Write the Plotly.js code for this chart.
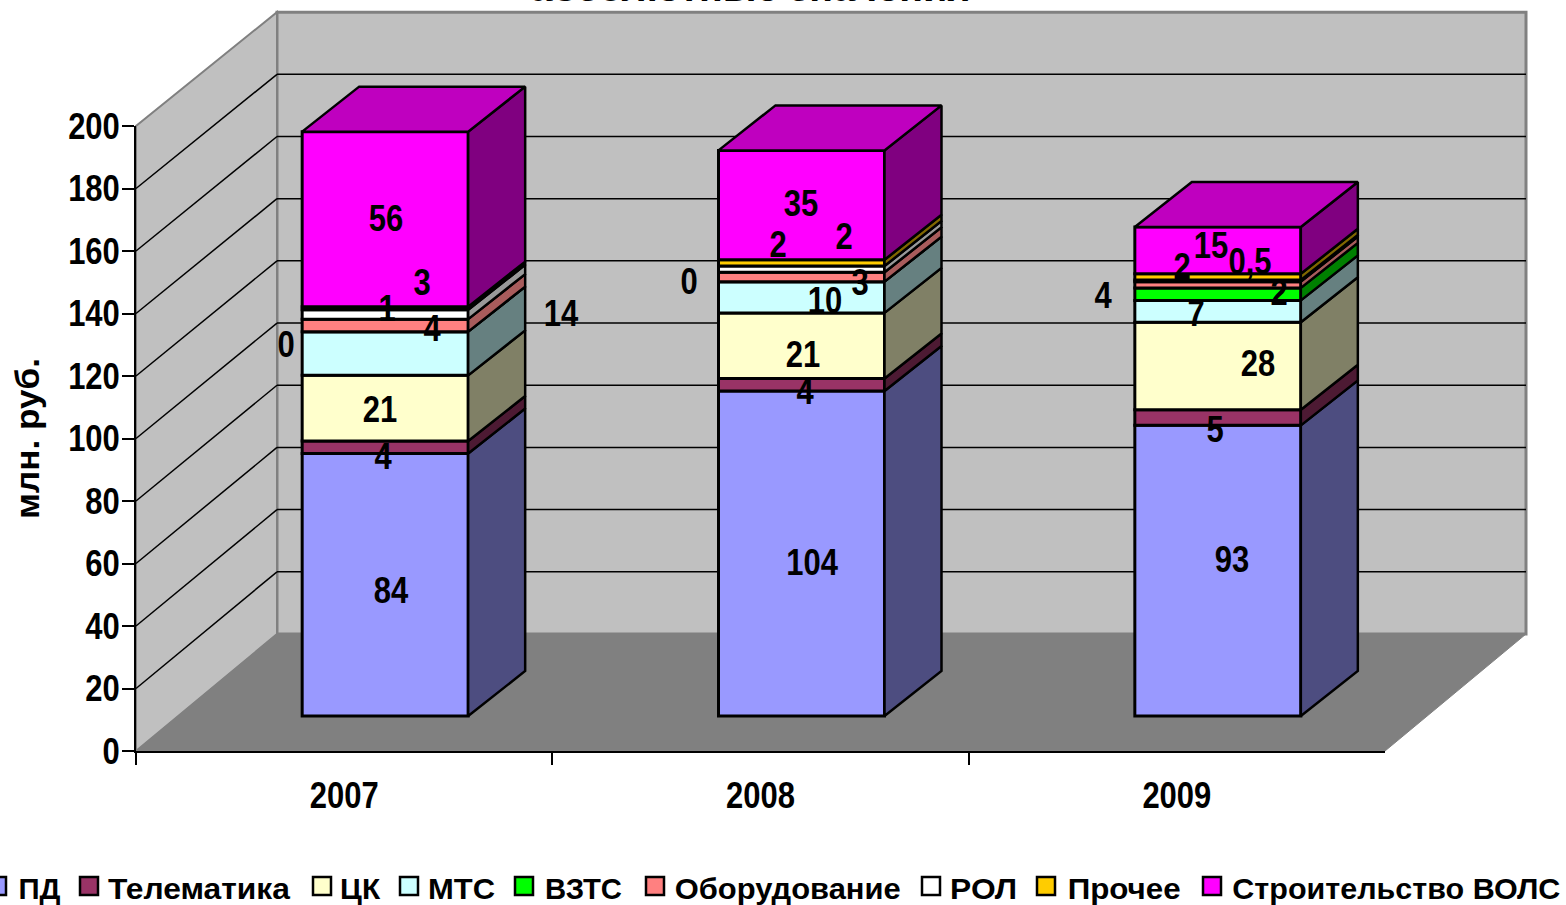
<!DOCTYPE html>
<html><head><meta charset="utf-8">
<script src="https://cdn.plot.ly/plotly-3.0.1.min.js"></script>
<style>html,body{margin:0;padding:0;background:#fff}#c{width:1566px;height:905px}</style>
</head><body><div id="c"></div>
<script>
const years = ['2007','2008','2009'];
const seriesNames = ['ПД','Телематика','ЦК','МТС','ВЗТС','Оборудование','РОЛ','Прочее','Строительство ВОЛС'];
const pd = [84,104,93];
const telematika = [4,4,5];
const ck = [21,21,28];
const mts = [14,10,7];
const vzts = [0,0,4];
const oborudovanie = [4,3,2];
const rol = [3,2,0.5];
const prochee = [1,2,2];
const stroitelstvo = [56,35,15];
const seriesValues = [pd,telematika,ck,mts,vzts,oborudovanie,rol,prochee,stroitelstvo];
const frontColors = ['#9999ff','#993366','#ffffcc','#ccffff','#00ff00','#ff8080','#ffffff','#ffcc00','#ff00ff'];
const sideColors  = ['#4d4d80','#4d1a33','#808066','#668080','#008000','#a85c5c','#999999','#806600','#800080'];
const topColor = '#bf00bf';
const yTicks = [0,20,40,60,80,100,120,140,160,180,200];
// label nudges in px from the middle of each segment, [2007,2008,2009] per series
const labelDx = [[6,10,14],[-2,3,-3],[-5,1,40],[176,23,-22],[-99,-113,-115],[47,58,61],[37,42,32],[2,-24,-36],[1,-1,-7]];
const labelDy = [[6,9,-11],[9,7,12],[1,9,-3],[-40,3,2],[13,0,1],[3,6,8],[-32,-33,-19],[0,-18,-10],[-1,-2,-5]];
const legendSwatchX = [-12,80,313,400,515,646,922,1037,1203];
const legendTextX = [18,108,340,428,545,674,950,1067,1232];
const legendTextW = [42,182,40,67,77,226,67,113,328];
const titleText = 'абсолютные значения';
const yTitleText = 'млн. руб.';

const W=1566,H=905, X0=136, Y0=751, PXU=1249/3, PYU=3.125;
const digitFont='"Liberation Sans",sans-serif';
const wallD=[141/PXU,117/PYU], barOff=[41/PXU,35/PYU], barD=[57/PXU,45/PYU], barW=166/PXU, backScale=0.995;

const cum = seriesValues.map((s,k)=>s.map((_,i)=>{let c=0;for(let j=0;j<k;j++)c+=seriesValues[j][i];return c;}));
const cx = i=>i+0.5+barOff[0];
const traces=[];
seriesNames.forEach((n,k)=>{
  traces.push({type:'bar',name:n,x:years.map((_,i)=>cx(i)),y:seriesValues[k],
    base:cum[k].map(c=>c+barOff[1]),width:barW,xaxis:'x',yaxis:'y',
    marker:{color:frontColors[k],line:{color:'#000',width:3}},showlegend:false,hoverinfo:'name+y'});
});
seriesNames.forEach((n,k)=>{
  const xs=[],ys=[];
  years.forEach((_,i)=>{
    const xr=cx(i)+barW/2,b0=barOff[1]+cum[k][i],b1=b0+seriesValues[k][i];
    xs.push(xr,xr+barD[0],xr+barD[0],xr,xr,null);
    ys.push(b0,b0+barD[1],b1+barD[1],b1,b0,null);
  });
  traces.push({type:'scatter',mode:'lines',x:xs,y:ys,fill:'toself',fillcolor:sideColors[k],
    line:{color:'#000',width:2.5},showlegend:false,hoverinfo:'skip',xaxis:'x',yaxis:'y'});
});
{
  const xs=[],ys=[];
  years.forEach((_,i)=>{
    const xl=cx(i)-barW/2,xr=cx(i)+barW/2,t=barOff[1]+cum[8][i]+stroitelstvo[i];
    xs.push(xl,xr,xr+barD[0],xl+barD[0],xl,null);
    ys.push(t,t,t+barD[1],t+barD[1],t,null);
  });
  traces.push({type:'scatter',mode:'lines',x:xs,y:ys,fill:'toself',fillcolor:topColor,
    line:{color:'#000',width:2.5},showlegend:false,hoverinfo:'skip',xaxis:'x',yaxis:'y'});
}
// carrier so that the visible axes exist
traces.push({type:'scatter',mode:'markers',x:years,y:years.map(()=>0),xaxis:'x2',yaxis:'y2',
  marker:{opacity:0,size:1},showlegend:false,hoverinfo:'skip'});

const poly=p=>'M'+p.map(q=>q[0]+','+q[1]).join('L')+'Z';
const backY=v=>wallD[1]+v*backScale;
const shapes=[
 {type:'path',layer:'below',xref:'x',yref:'y',path:poly([[wallD[0],backY(0)],[3+wallD[0],backY(0)],[3+wallD[0],backY(200)],[wallD[0],backY(200)]]),fillcolor:'#c0c0c0',line:{color:'#808080',width:3}},
 {type:'path',layer:'below',xref:'x',yref:'y',path:poly([[0,0],[wallD[0],backY(0)],[wallD[0],backY(200)],[0,200]]),fillcolor:'#c0c0c0',line:{color:'#808080',width:2}},
 {type:'path',layer:'below',xref:'x',yref:'y',path:poly([[0,0],[3,0],[3+wallD[0],backY(0)],[wallD[0],backY(0)]]),fillcolor:'#808080',line:{color:'#808080',width:1}}
];
yTicks.filter(v=>v>0&&v<200).forEach(v=>{
  const l={color:'#000',width:1.5};
  shapes.push({type:'line',layer:'below',xref:'x',yref:'y',x0:wallD[0],x1:3+wallD[0],y0:backY(v),y1:backY(v),line:l});
  shapes.push({type:'line',layer:'below',xref:'x',yref:'y',x0:0,x1:wallD[0],y0:v,y1:backY(v),line:l});
});
const annotations=[];
seriesNames.forEach((n,k)=>{
  years.forEach((_,i)=>{
    const v=seriesValues[k][i];
    annotations.push({xref:'x',yref:'y',x:cx(i),y:barOff[1]+cum[k][i]+v/2,xshift:labelDx[k][i],yshift:-labelDy[k][i],
      text:String(v).replace('.',','),showarrow:false,font:{family:digitFont,size:36,color:'#000',weight:700},xanchor:'center',yanchor:'middle'});
  });
});
const fitWidths={};
seriesNames.forEach((n,k)=>{
  fitWidths[n]=legendTextW[k];
  annotations.push({xref:'paper',yref:'paper',x:(legendTextX[k]+legendTextW[k]/2)/W,y:1-888/H,text:n,showarrow:false,xanchor:'center',yanchor:'middle',
    font:{family:'"Liberation Sans",sans-serif',size:30,color:'#000',weight:700}});
  shapes.push({type:'rect',xref:'paper',yref:'paper',x0:legendSwatchX[k]/W,x1:(legendSwatchX[k]+18)/W,y0:1-895/H,y1:1-877/H,
    fillcolor:frontColors[k],line:{color:'#000',width:2.5}});
});
fitWidths[titleText]=440;
fitWidths[yTitleText]=161;
annotations.push({xref:'paper',yref:'paper',x:750/W,y:1+11/H,text:titleText,showarrow:false,xanchor:'center',yanchor:'middle',
  font:{family:'"Liberation Sans",sans-serif',size:33,color:'#000',weight:700}});

const layout={width:W,height:H,margin:{l:0,r:0,t:0,b:0},paper_bgcolor:'#fff',plot_bgcolor:'rgba(0,0,0,0)',
 barmode:'overlay',showlegend:false,hovermode:false,
 xaxis:{range:[-X0/PXU,(W-X0)/PXU],visible:false,fixedrange:true,domain:[0,1],anchor:'y'},
 yaxis:{range:[-(H-Y0)/PYU,Y0/PYU],visible:false,fixedrange:true,domain:[0,1],anchor:'x'},
 xaxis2:{type:'category',categoryorder:'array',categoryarray:years,range:[-0.5,2.5],domain:[X0/W,(X0+1249)/W],anchor:'y2',
   tickson:'boundaries',ticks:'outside',ticklen:12,tickwidth:2,tickcolor:'#000',showline:true,linecolor:'#000',linewidth:2,showgrid:false,
   tickfont:{family:digitFont,size:36,color:'#000',weight:700},ticklabelstandoff:12,fixedrange:true},
 yaxis2:{range:[0,200],domain:[(H-Y0)/H,(H-Y0+625)/H],anchor:'x2',tickvals:yTicks,ticktext:yTicks.map(String),
   ticks:'outside',ticklen:12,tickwidth:2,tickcolor:'#000',showline:true,linecolor:'#000',linewidth:2,showgrid:false,zeroline:false,
   tickfont:{family:digitFont,size:36,color:'#000',weight:700},ticklabelstandoff:-5,fixedrange:true,
   title:{text:yTitleText,font:{family:'"Liberation Sans",sans-serif',size:33,color:'#000',weight:700},standoff:10}},
 shapes,annotations};
Plotly.newPlot('c',traces,layout,{displayModeBar:false,staticPlot:true}).then(gd=>{
  // the reference uses a condensed face; fit the real text to its measured widths
  gd.querySelectorAll('svg text').forEach(el=>{
    const t=el.textContent;
    let w=null;
    if(fitWidths[t]) w=fitWidths[t];
    else if(/^[\d,]+$/.test(t)) w=el.getComputedTextLength()*0.86;
    if(w){el.setAttribute('textLength',w);el.setAttribute('lengthAdjust','spacingAndGlyphs');}
  });
});
</script></body></html>
